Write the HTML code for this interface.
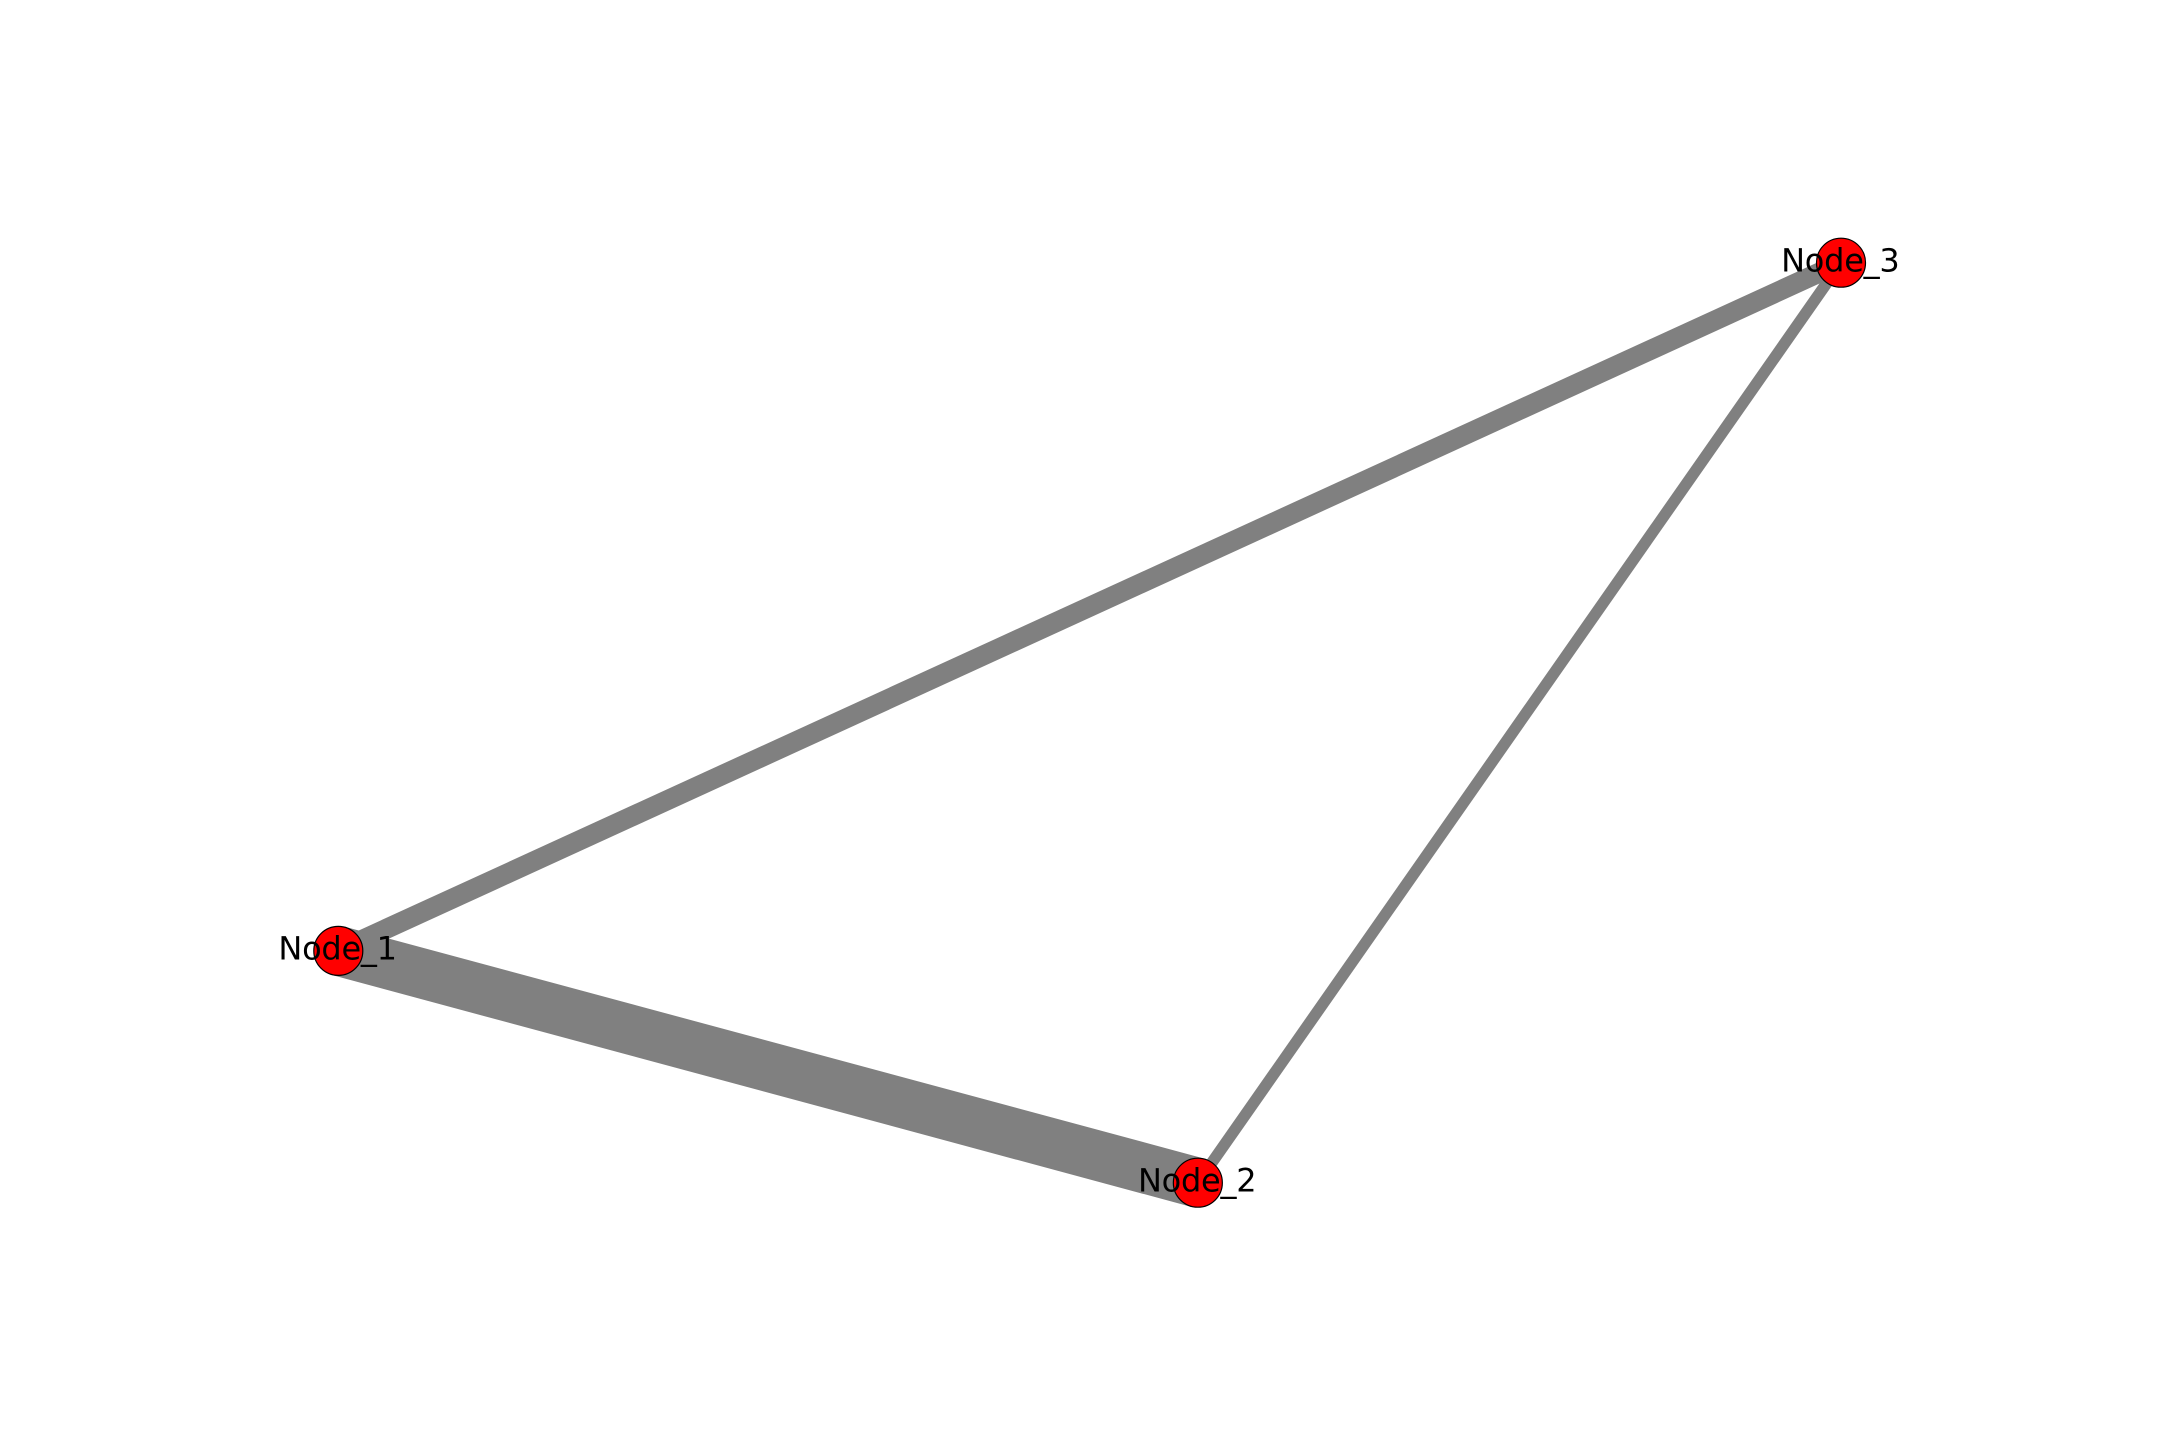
<!DOCTYPE html>
<html lang="en">
<head>
<meta charset="utf-8">
<title>Node network graph</title>
<style>
  html, body { margin: 0; padding: 0; background: #ffffff; }
  svg { display: block; }
  text { font-family: "DejaVu Sans", "Liberation Sans", sans-serif; letter-spacing: -0.25px; }
</style>
</head>
<body>
<svg id="chart" xmlns="http://www.w3.org/2000/svg" width="2160" height="1440" viewBox="0 0 2160 1440">
  <rect x="0" y="0" width="2160" height="1440" fill="#ffffff"></rect>
  <g id="edges"></g>
  <g id="nodes"></g>
  <g id="labels"></g>
</svg>
<script>
const nodeNames = ['Node_1', 'Node_2', 'Node_3'];
const nodeXValues = [-1.0, 0.144, 1.0];
const nodeYValues = [-0.496, -1.0, 1.0];
const edgeSources = [0, 0, 1];
const edgeTargets = [1, 2, 2];
const edgeWeights = [10, 4, 2.3];

function xScale(v) { return 1089.65 + 751.35 * v; }
function yScale(v) { return 722.7 - 460 * v; }
function widthScale(w) { return 5 * w; }

const NS = 'http://www.w3.org/2000/svg';
const edgesLayer = document.getElementById('edges');
const nodesLayer = document.getElementById('nodes');
const labelsLayer = document.getElementById('labels');

edgeWeights.forEach(function (weight, i) {
  const a = edgeSources[i];
  const b = edgeTargets[i];
  const line = document.createElementNS(NS, 'line');
  
  
  line.setAttribute('x1', xScale(nodeXValues[a]));
  line.setAttribute('y1', yScale(nodeYValues[a]));
  line.setAttribute('x2', xScale(nodeXValues[b]));
  line.setAttribute('y2', yScale(nodeYValues[b]));
  line.setAttribute('stroke', '#808080');
  line.setAttribute('stroke-width', widthScale(weight));
  edgesLayer.appendChild(line);
});

nodeNames.forEach(function (name, i) {
  const cx = xScale(nodeXValues[i]);
  const cy = yScale(nodeYValues[i]);

  const circle = document.createElementNS(NS, 'circle');
  
  
  circle.setAttribute('cx', cx);
  circle.setAttribute('cy', cy);
  circle.setAttribute('r', 24.5);
  circle.setAttribute('fill', '#ff0000');
  circle.setAttribute('stroke', '#000000');
  circle.setAttribute('stroke-width', 1.2);
  nodesLayer.appendChild(circle);

  const label = document.createElementNS(NS, 'text');
  
  
  label.setAttribute('x', cx - 0.7);
  label.setAttribute('y', cy + 8.6);
  label.setAttribute('text-anchor', 'middle');
  label.setAttribute('font-size', 32);
  label.setAttribute('fill', '#000000');
  label.textContent = name;
  labelsLayer.appendChild(label);
});
</script>
</body>
</html>
